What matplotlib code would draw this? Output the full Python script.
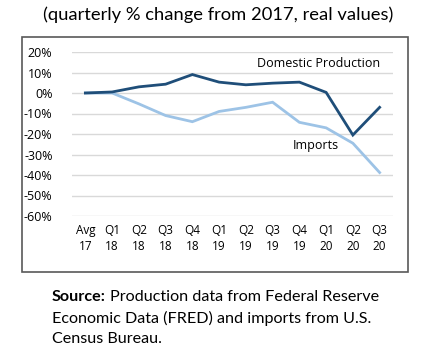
import matplotlib
matplotlib.use("Agg")
import matplotlib.pyplot as plt
from matplotlib.patches import Rectangle

categories = ["Avg\n17", "Q1\n18", "Q2\n18", "Q3\n18", "Q4\n18", "Q1\n19", "Q2\n19",
              "Q3\n19", "Q4\n19", "Q1\n20", "Q2\n20", "Q3\n20"]
domestic = [0, 0.5, 3, 4.3, 9, 5.3, 4, 4.8, 5.3, 0.3, -20.5, -7]
imports = [0, 0, -5.3, -11, -14, -9, -7, -4.5, -14.3, -17, -24.5, -38.8]
yticks = [20, 10, 0, -10, -20, -30, -40, -50, -60]

W, H = 437, 354
fig = plt.figure(figsize=(W / 100, H / 100), dpi=100)
fig.patch.set_facecolor("white")

left, right, top, bottom = 72, 393, 52, 216
ax = fig.add_axes([left / W, 1 - bottom / H, (right - left) / W, (bottom - top) / H])
x = list(range(len(categories)))
ax.plot(x, imports, color="#9dc3e6", lw=2.0, solid_joinstyle="miter", zorder=3)
ax.plot(x, domestic, color="#1f4e79", lw=2.0, solid_joinstyle="miter", zorder=4)
ax.set_xlim(-0.5, len(categories) - 0.5)
ax.set_ylim(-60, 20)
ax.set_yticks(yticks)
ax.set_yticklabels([f"{v}%" for v in yticks], fontsize=9, family="Open Sans", color="#000000")
ax.set_xticks(x)
ax.set_xticklabels(categories, fontsize=8.5, family="Open Sans", color="#000000", linespacing=1.25)
ax.grid(axis="y", color="#d9d9d9", lw=1)
ax.set_axisbelow(True)
for s in ax.spines.values():
    s.set_visible(False)
ax.tick_params(length=0, pad=6)
ax.tick_params(axis="y", pad=14)

ax.text(6.42, 14.5, "Domestic Production", fontsize=9, family="Open Sans", va="center", ha="left")
ax.text(7.76, -25.5, "Imports", fontsize=9, family="Open Sans", va="center", ha="left")

fig.add_artist(Rectangle((22 / W, 1 - 272 / H), (408 - 22) / W, (272 - 37) / H,
                         transform=fig.transFigure, fill=False, edgecolor="#595959", lw=1.2))

fig.text(218 / W, 1 - 15 / H, "(quarterly % change from 2017, real values)", fontsize=13.2,
         family="Lato", ha="center", va="center")

fs = 11.6
src1 = fig.text(52 / W, 1 - 297 / H, "Source:", fontsize=fs, family="Lato", weight="bold",
                ha="left", va="center")
fig.canvas.draw()
bb = src1.get_window_extent()
fig.text((bb.x1 + 4) / W, 1 - 297 / H, "Production data from Federal Reserve", fontsize=fs,
         family="Lato", ha="left", va="center")
fig.text(52 / W, 1 - 318 / H, "Economic Data (FRED) and imports from U.S.", fontsize=fs,
         family="Lato", ha="left", va="center")
fig.text(52 / W, 1 - 339 / H, "Census Bureau.", fontsize=fs, family="Lato", ha="left", va="center")

fig.savefig("out.png", dpi=100, facecolor="white")
